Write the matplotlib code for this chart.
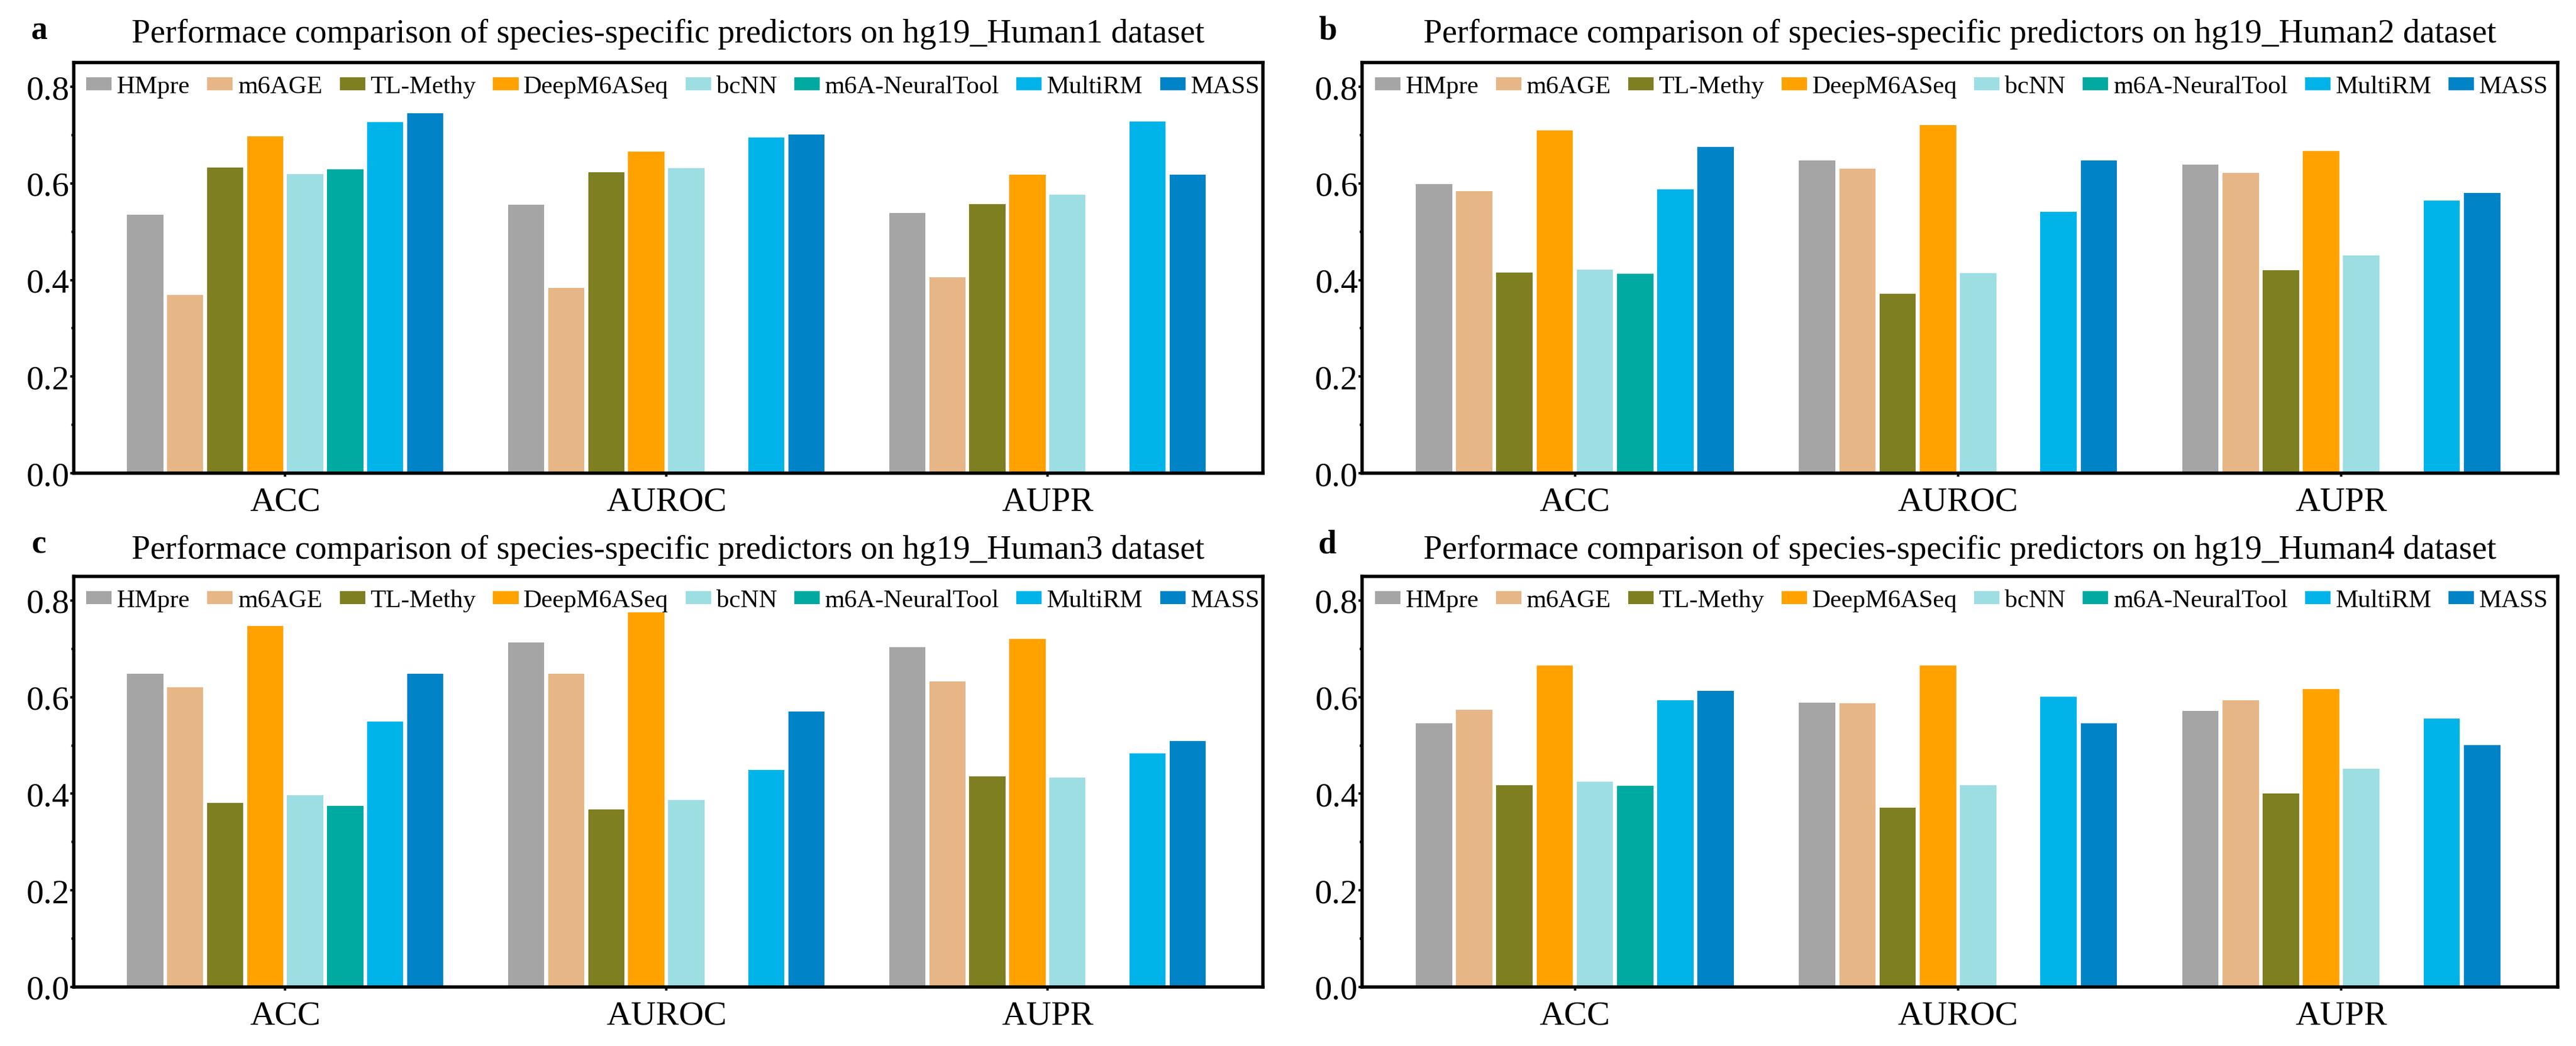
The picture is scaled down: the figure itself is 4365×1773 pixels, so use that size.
import numpy as np
import matplotlib
matplotlib.use('Agg')
import matplotlib.pyplot as plt
from matplotlib.ticker import MultipleLocator

plt.rcParams['font.family'] = ['Liberation Serif', 'DejaVu Serif']

# 예측기 / 지표
methods = ['HMpre', 'm6AGE', 'TL-Methy', 'DeepM6ASeq', 'bcNN', 'm6A-NeuralTool', 'MultiRM', 'MASS']
colors = ['#A5A5A5', '#E7B686', '#7E7F20', '#FFA200', '#9DDEE3', '#00AAA0', '#00B4EA', '#0083C7']
metrics = ['ACC', 'AUROC', 'AUPR']
nan = np.nan

# hg19_Human1 (a)
human1 = [
    [0.535, 0.556, 0.539],
    [0.369, 0.384, 0.405],
    [0.633, 0.623, 0.557],
    [0.698, 0.666, 0.618],
    [0.619, 0.632, 0.576],
    [0.629, nan, nan],
    [0.727, 0.695, 0.728],
    [0.745, 0.701, 0.618],
]
# hg19_Human2 (b)
human2 = [
    [0.599, 0.647, 0.639],
    [0.584, 0.630, 0.622],
    [0.415, 0.371, 0.420],
    [0.710, 0.721, 0.667],
    [0.422, 0.414, 0.451],
    [0.413, nan, nan],
    [0.587, 0.541, 0.564],
    [0.675, 0.648, 0.580],
]
# hg19_Human3 (c)
human3 = [
    [0.649, 0.713, 0.704],
    [0.621, 0.649, 0.633],
    [0.381, 0.367, 0.436],
    [0.747, 0.775, 0.720],
    [0.397, 0.387, 0.433],
    [0.375, nan, nan],
    [0.550, 0.449, 0.484],
    [0.649, 0.570, 0.509],
]
# hg19_Human4 (d)
human4 = [
    [0.546, 0.589, 0.572],
    [0.574, 0.587, 0.594],
    [0.418, 0.371, 0.401],
    [0.666, 0.665, 0.617],
    [0.425, 0.418, 0.452],
    [0.416, nan, nan],
    [0.594, 0.601, 0.556],
    [0.613, 0.546, 0.501],
]

panels = [('a', 'hg19_Human1', human1), ('b', 'hg19_Human2', human2),
          ('c', 'hg19_Human3', human3), ('d', 'hg19_Human4', human4)]

fig = plt.figure(figsize=(43.65, 17.74), dpi=100)

# 축 위치 (figure 비율)
ax_pos = [
    [0.0286, 0.5473, 0.4616, 0.3923],
    [0.5288, 0.5473, 0.4641, 0.3923],
    [0.0286, 0.0564, 0.4616, 0.3923],
    [0.5288, 0.0564, 0.4641, 0.3923],
]
title_pad = [25, 25, 22, 22]

pitch = 0.105
bar_w = 0.095
x = np.arange(len(metrics))

for (letter, name, data), pos, tp in zip(panels, ax_pos, title_pad):
    ax = fig.add_axes(pos)
    for i, (m, c) in enumerate(zip(methods, colors)):
        offset = (i - 3.5) * pitch
        ax.bar(x + offset, data[i], width=bar_w, color=c, label=m)

    ax.set_xlim(-0.555, 2.565)
    ax.set_ylim(0, 0.85)
    ax.set_xticks(x)
    ax.set_xticklabels(metrics)
    ax.yaxis.set_major_locator(MultipleLocator(0.2))
    ax.yaxis.set_minor_locator(MultipleLocator(0.1))
    ax.yaxis.set_major_formatter(matplotlib.ticker.FormatStrFormatter('%.1f'))
    ax.tick_params(axis='both', which='major', labelsize=42, length=4, width=3, direction='out')
    ax.tick_params(axis='y', which='major', pad=1)
    ax.tick_params(axis='x', which='major', pad=12)
    ax.tick_params(axis='y', which='minor', length=3, width=3)
    for sp in ax.spines.values():
        sp.set_linewidth(4)

    ax.set_title(f"Performace comparison of species-specific predictors on {name} dataset",
                 fontsize=41, pad=tp)
    bb = ax.get_position()
    fig.text(bb.x0 - 0.0135, bb.y1 + 0.023, letter, fontsize=40, fontweight='bold',
             ha='center', va='baseline')

    ax.legend(loc='upper left', bbox_to_anchor=(0.0, 1.0), ncol=8, frameon=False,
              fontsize=31, handlelength=1.0, handleheight=0.4, handletextpad=0.2,
              columnspacing=0.68, borderaxespad=0.2, borderpad=0.3)

fig.savefig('out.png', dpi=100)
